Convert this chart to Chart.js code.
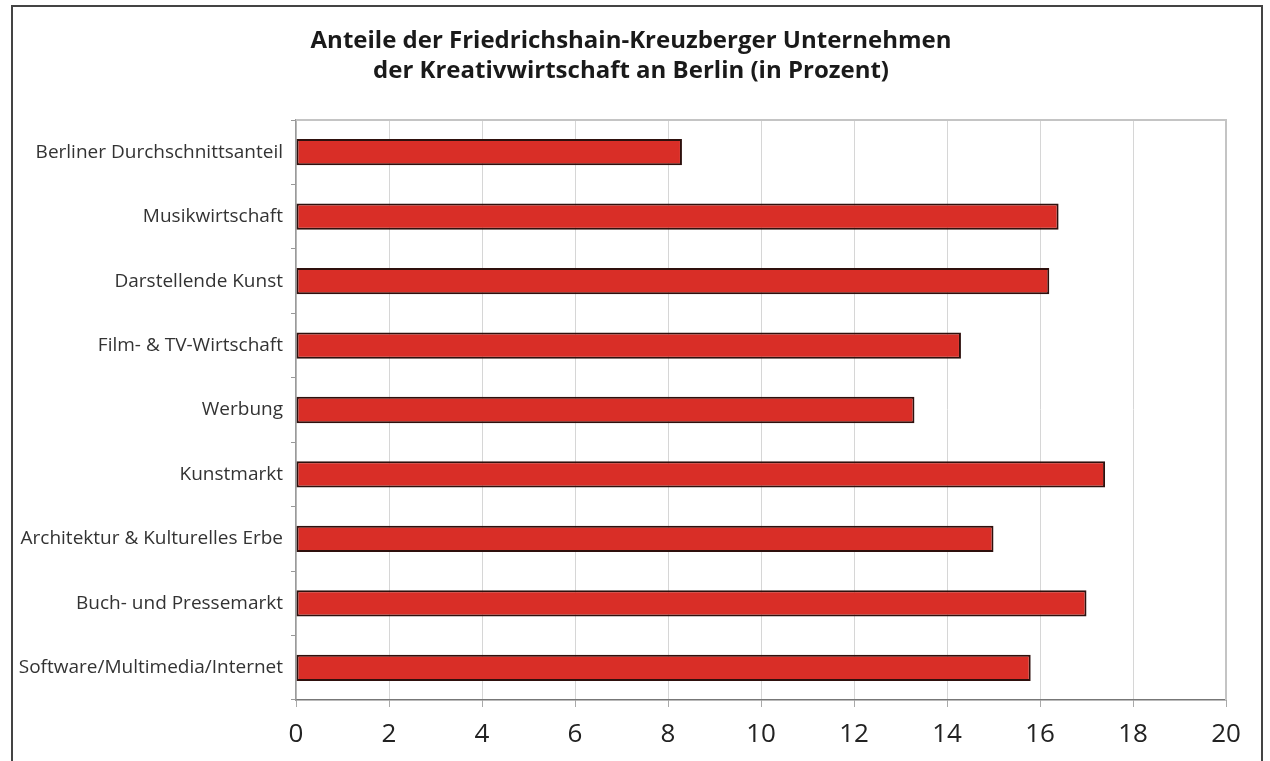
<!DOCTYPE html>
<html>
<head>
<meta charset="utf-8">
<script src="https://cdn.jsdelivr.net/npm/chart.js@4"></script>
<style>
  html, body { margin: 0; padding: 0; background: #ffffff; }
  #wrap { width: 1270px; height: 761px; position: relative; }
</style>
</head>
<body>
<div id="wrap"><canvas id="shareChart" width="1270" height="761"></canvas></div>
<script>
var titleLines = [
    'Anteile der Friedrichshain-Kreuzberger Unternehmen',
    'der Kreativwirtschaft an Berlin (in Prozent)'
];
var categories = [
    'Berliner Durchschnittsanteil',
    'Musikwirtschaft',
    'Darstellende Kunst',
    'Film- & TV-Wirtschaft',
    'Werbung',
    'Kunstmarkt',
    'Architektur & Kulturelles Erbe',
    'Buch- und Pressemarkt',
    'Software/Multimedia/Internet'
];
var shares = [8.3, 16.4, 16.2, 14.3, 13.3, 17.4, 15.0, 17.0, 15.8];
var xMin = 0;
var xMax = 20;
var xStep = 2;

// outer frame, grey top/right edge of the plot, and the two-line title
var framePlugin = {
    id: 'frame',
    afterDraw: function(chart) {
        var c = chart.ctx;
        var a = chart.chartArea;
        c.save();
        c.strokeStyle = '#c4c4c4';
        c.lineWidth = 2;
        c.beginPath();
        c.moveTo(a.left, a.top);
        c.lineTo(a.right, a.top);
        c.lineTo(a.right, a.bottom);
        c.stroke();
        c.strokeStyle = '#444444';
        c.lineWidth = 2;
        c.beginPath();
        c.moveTo(12, 761);
        c.lineTo(12, 6);
        c.lineTo(1262, 6);
        c.lineTo(1262, 761);
        c.stroke();

        c.fillStyle = '#1a1a1a';
        c.font = 'bold 24px "Open Sans"';
        c.textAlign = 'center';
        c.textBaseline = 'middle';
        titleLines.forEach(function(line, i) {
            c.fillText(line, 631, 41 + i * 30);
        });
        c.restore();
    }
};

var ctx = document.getElementById('shareChart').getContext('2d');
var shareChart = new Chart(ctx, {
    type: 'bar',
    data: {
        labels: categories,
        datasets: [{
            data: shares,
            backgroundColor: '#d92e27',
            borderColor: '#2e100d',
            borderWidth: 2,
            borderSkipped: false,
            barPercentage: 0.8,
            categoryPercentage: 0.51
        }]
    },
    options: {
        indexAxis: 'y',
        responsive: false,
        animation: false,
        layout: { padding: { left: 0, right: 44, top: 120, bottom: 0 } },
        plugins: {
            legend: { display: false },
            tooltip: { enabled: false },
            title: { display: false }
        },
        scales: {
            x: {
                min: xMin,
                max: xMax,
                ticks: {
                    stepSize: xStep,
                    color: '#222222',
                    font: { family: 'Open Sans', size: 26 },
                    padding: 12
                },
                grid: { color: '#d6d6d6', lineWidth: 1, tickLength: 7, tickColor: '#aaaaaa' },
                border: { display: true, color: '#777777', width: 1.5 },
                afterFit: function(scale) { scale.height = 61; }
            },
            y: {
                ticks: {
                    color: '#333333',
                    font: { family: 'Open Sans', size: 19 },
                    padding: 8
                },
                grid: { drawOnChartArea: false, drawTicks: true, tickLength: 5, offset: true, color: '#999999' },
                border: { display: true, color: '#9a9a9a', width: 1.5 },
                afterFit: function(scale) { scale.width = 296; }
            }
        }
    },
    plugins: [framePlugin]
});
</script>
</body>
</html>
